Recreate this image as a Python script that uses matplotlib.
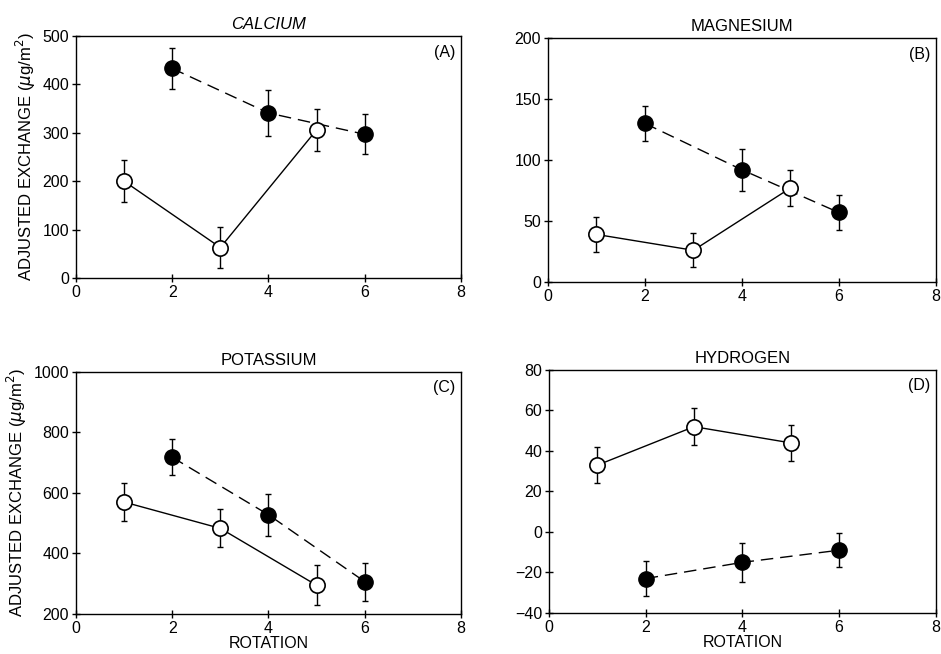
import matplotlib
matplotlib.use("Agg")
import matplotlib.pyplot as plt

plt.rcParams["font.family"] = "Liberation Sans"
plt.rcParams["font.size"] = 10

# rotation numbers
x_open = [1, 3, 5]
x_filled = [2, 4, 6]

# (A) calcium
ca_open = [200, 63, 306]
ca_open_err = [43, 43, 44]
ca_filled = [433, 341, 297]
ca_filled_err = [42, 48, 41]

# (B) magnesium
mg_open = [39, 26, 77]
mg_open_err = [14, 14, 15]
mg_filled = [130, 92, 57]
mg_filled_err = [14, 17, 14]

# (C) potassium
k_open = [570, 483, 295]
k_open_err = [62, 63, 66]
k_filled = [718, 528, 307]
k_filled_err = [60, 70, 63]

# (D) hydrogen
h_open = [33, 52, 44]
h_open_err = [9, 9, 9]
h_filled = [-23, -15, -9]
h_filled_err = [8.5, 9.5, 8.5]

panels = [
    ("CALCIUM", "(A)", ca_open, ca_open_err, ca_filled, ca_filled_err, (0, 500), [0, 100, 200, 300, 400, 500]),
    ("MAGNESIUM", "(B)", mg_open, mg_open_err, mg_filled, mg_filled_err, (0, 200), [0, 50, 100, 150, 200]),
    ("POTASSIUM", "(C)", k_open, k_open_err, k_filled, k_filled_err, (200, 1000), [200, 400, 600, 800, 1000]),
    ("HYDROGEN", "(D)", h_open, h_open_err, h_filled, h_filled_err, (-40, 80), [-40, -20, 0, 20, 40, 60, 80]),
]

positions = [
    [0.0808, 0.5749, 0.409, 0.370],
    [0.5824, 0.5688, 0.412, 0.373],
    [0.0808, 0.0612, 0.409, 0.370],
    [0.5834, 0.0627, 0.411, 0.3716],
]

fig = plt.figure(figsize=(9.41, 6.54), dpi=100)

for i, (title, tag, yo, eo, yf, ef, ylim, yticks) in enumerate(panels):
    ax = fig.add_axes(positions[i])
    ax.errorbar(x_filled, yf, yerr=ef, fmt="none", ecolor="black", elinewidth=1, capsize=2.5, capthick=1, zorder=1)
    ax.plot(x_filled, yf, color="black", lw=1, ls=(0, (9, 5)), marker="o", ms=11,
            mfc="black", mec="black", zorder=2)
    ax.errorbar(x_open, yo, yerr=eo, fmt="none", ecolor="black", elinewidth=1, capsize=2.5, capthick=1, zorder=1)
    ax.plot(x_open, yo, color="black", lw=1, ls="-", marker="o", ms=11,
            mfc="white", mec="black", mew=1.2, zorder=3)
    ax.set_xlim(0, 8)
    ax.set_ylim(*ylim)
    ax.set_xticks([0, 2, 4, 6, 8])
    ax.set_yticks(yticks)
    ax.set_yticklabels([str(t).replace("-", "\u2212") for t in yticks])
    ax.tick_params(direction="inout", length=6, width=1, labelsize=11.5, pad=2)
    for s in ax.spines.values():
        s.set_linewidth(1)
    ax.set_title(title, fontsize=12, pad=5, style="italic" if title == "CALCIUM" else "normal")
    ax.text(0.985, 0.965, tag, transform=ax.transAxes, ha="right", va="top", fontsize=11.5)
    if i in (0, 2):
        ax.set_ylabel(r"ADJUSTED EXCHANGE ($\mu$g/m$^2$)", fontsize=12, labelpad=3)
    if i in (2, 3):
        ax.set_xlabel("ROTATION", fontsize=11.5, labelpad=0)

fig.savefig("out.png", dpi=100)
